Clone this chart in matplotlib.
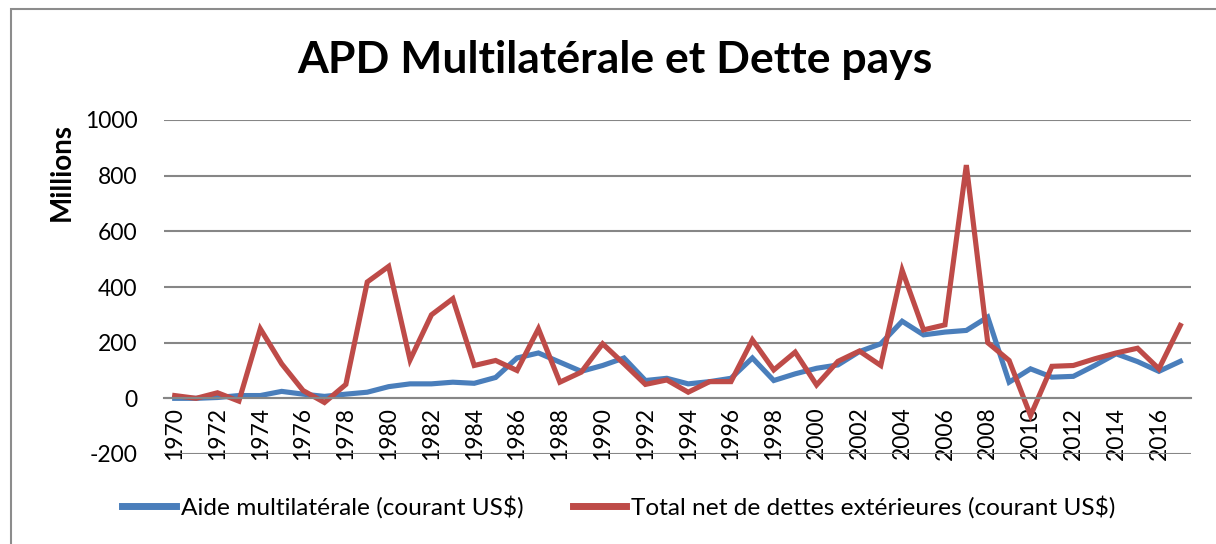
import matplotlib
matplotlib.use("Agg")
import matplotlib.pyplot as plt
from matplotlib.patches import Rectangle
from matplotlib.lines import Line2D

years = list(range(1970, 2018))
aide_multilaterale = [0, 0, 3, 10, 10, 25, 15, 7, 15, 22,
                      42, 52, 52, 58, 54, 75, 145, 163, 130, 97,
                      118, 145, 64, 72, 52, 60, 72, 145, 64, 88,
                      108, 120, 168, 196, 277, 228, 238, 244, 292, 58,
                      106, 76, 79, 118, 160, 132, 97, 133]
dette_totale = [10, 0, 20, -10, 250, 124, 28, -15, 50, 418,
                474, 138, 300, 358, 118, 136, 100, 250, 58, 94,
                196, 124, 50, 66, 22, 60, 60, 210, 102, 166,
                48, 133, 170, 118, 460, 246, 264, 838, 200, 136,
                -62, 115, 118, 142, 163, 180, 106, 262]
yticks = [-200, 0, 200, 400, 600, 800, 1000]
xtick_years = list(range(1970, 2018, 2))

title = "APD Multilatérale et Dette pays"
ylabel = "Millions"
label_aide = "Aide multilatérale (courant US$)"
label_dette = "Total net de dettes extérieures (courant US$)"

W, H = 1216, 544
fig = plt.figure(figsize=(W / 100, H / 100), dpi=100)
font = ["Lato", "DejaVu Sans"]
plt.rcParams['font.family'] = font

# outer chart border (cropped)
fig.patches.append(Rectangle((11 / W, -0.1), 1.2, 1 - 9 / H + 0.1,
                             transform=fig.transFigure, fill=False,
                             edgecolor="#8c8c8c", linewidth=1.5))

ax = fig.add_axes([164 / W, 1 - 454 / H, (1191 - 164) / W, (454 - 120) / H])
blue = "#4A7EBB"
red = "#BE4B48"
ax.plot(years, aide_multilaterale, color=blue, linewidth=3.7, solid_joinstyle="miter")
ax.plot(years, dette_totale, color=red, linewidth=3.7, solid_joinstyle="miter")

ax.set_xlim(1969.5, 2017.5)
ax.set_ylim(-200, 1000)
ax.set_yticks(yticks)
ax.set_yticklabels([str(v) for v in yticks])
ax.yaxis.grid(True, color="#868686", linewidth=1.5)
ax.set_axisbelow(True)
for s in ["top", "right", "left"]:
    ax.spines[s].set_visible(False)
ax.spines["bottom"].set_position(("data", 0))
ax.spines["bottom"].set_color("#868686")
ax.spines["bottom"].set_linewidth(1.5)
ax.set_xticks(xtick_years)
ax.set_xticklabels([str(y) for y in xtick_years], rotation=90)
ax.tick_params(axis="x", length=0, pad=6, labelsize=16.5)
ax.tick_params(axis="y", length=0, pad=19, labelsize=16.5)

fig.text(615 / W, 1 - 60 / H, title, ha="center", va="center",
         fontsize=32, fontweight="bold")
fig.text(62 / W, 1 - 172 / H, ylabel, ha="center", va="center",
         rotation=90, fontsize=20, fontweight="bold")

handles = [Line2D([], [], color=blue, linewidth=5),
           Line2D([], [], color=red, linewidth=5)]
fig.legend(handles, [label_aide, label_dette], loc="center",
           bbox_to_anchor=(619 / W, 1 - 507 / H), ncol=2, frameon=False,
           fontsize=17.6, handlelength=2.2, handletextpad=0.2,
           columnspacing=2.0)

fig.savefig("out.png", dpi=100)
